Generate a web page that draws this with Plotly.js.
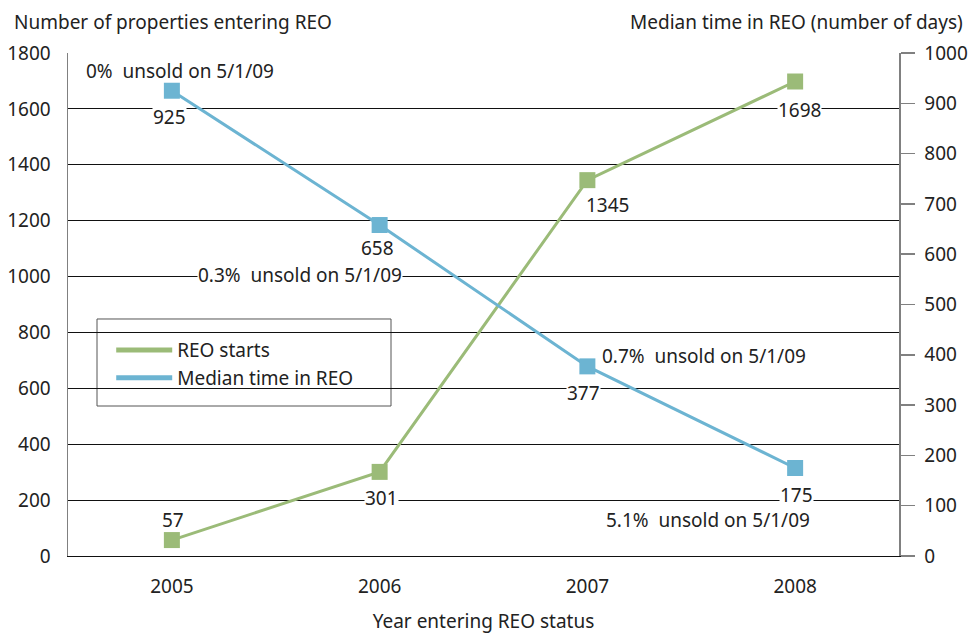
<!DOCTYPE html>
<html>
<head>
<meta charset="utf-8">
<script src="https://cdn.plot.ly/plotly-3.0.1.min.js"></script>
<style>html,body{margin:0;padding:0;background:#fff;}#chart{width:970px;height:634px;}</style>
</head>
<body>
<div id="chart"></div>
<script>
// ---- data ----
const years = ['2005', '2006', '2007', '2008'];
const reoStarts = [57, 301, 1345, 1698];
const medianDays = [925, 658, 377, 175];
const unsoldPct = ['0%', '0.3%', '0.7%', '5.1%'];
const seriesNames = ['REO starts', 'Median time in REO'];
const leftTitle = 'Number of properties entering REO';
const rightTitle = 'Median time in REO (number of days)';
const xTitle = 'Year entering REO status';

// ---- styles ----
const GREEN = '#9bbb78';
const BLUE = '#6cb4d2';
const TXT = '#222222';
const FONT = 'Noto Sans, Open Sans, sans-serif';
const FS = 19;

// [xshift, yshift, whiteBackground]
const greenLabelShift = [[1, 20, false], [2, -26, true], [20, -25, false], [4, -28, true]];
const blueLabelShift = [[-2, -26, true], [-2, -23, false], [-4, -27, true], [1, -27, true]];
// [xshift, yshift, xanchor, whiteBackground]
const unsoldShift = [[-87, 20, 'left', false], [-80, -50, 'center', true], [14, 10, 'left', false], [-87, -52, 'center', false]];

const traces = [
  {x: years, y: reoStarts, type: 'scatter', mode: 'lines+markers', name: seriesNames[0],
   line: {color: GREEN, width: 3}, marker: {symbol: 'square', size: 16, color: GREEN},
   yaxis: 'y', showlegend: false, hoverinfo: 'x+y'},
  {x: years, y: medianDays, type: 'scatter', mode: 'lines+markers', name: seriesNames[1],
   line: {color: BLUE, width: 3}, marker: {symbol: 'square', size: 16, color: BLUE},
   yaxis: 'y2', showlegend: false, hoverinfo: 'x+y'},
  // legend entries (line only)
  {x: [null], y: [null], type: 'scatter', mode: 'lines', name: seriesNames[0],
   line: {color: GREEN, width: 5}, yaxis: 'y', hoverinfo: 'skip'},
  {x: [null], y: [null], type: 'scatter', mode: 'lines', name: seriesNames[1],
   line: {color: BLUE, width: 5}, yaxis: 'y', hoverinfo: 'skip'}
];

const annotations = [];
years.forEach((yr, i) => {
  const g = greenLabelShift[i];
  annotations.push({x: i, y: reoStarts[i], xref: 'x', yref: 'y', text: String(reoStarts[i]),
    showarrow: false, xshift: g[0], yshift: g[1], bgcolor: g[2] ? '#ffffff' : 'rgba(0,0,0,0)',
    borderpad: 0, font: {size: FS, color: TXT}});
  const b = blueLabelShift[i];
  annotations.push({x: i, y: medianDays[i], xref: 'x', yref: 'y2', text: String(medianDays[i]),
    showarrow: false, xshift: b[0], yshift: b[1], bgcolor: b[2] ? '#ffffff' : 'rgba(0,0,0,0)',
    borderpad: 0, font: {size: FS, color: TXT}});
  const u = unsoldShift[i];
  annotations.push({x: i, y: medianDays[i], xref: 'x', yref: 'y2',
    text: unsoldPct[i] + '\u00a0 unsold on 5/1/09',
    showarrow: false, xshift: u[0], yshift: u[1], xanchor: u[2],
    bgcolor: u[3] ? '#ffffff' : 'rgba(0,0,0,0)', borderpad: 0,
    font: {size: FS, color: TXT}});
});
annotations.push({xref: 'paper', yref: 'paper', x: -0.067, y: 1.0, yshift: 31, xanchor: 'left', yanchor: 'middle',
  text: leftTitle, showarrow: false, font: {size: FS, color: TXT}});
annotations.push({xref: 'paper', yref: 'paper', x: 1.0, xshift: 66, y: 1.0, yshift: 31, xanchor: 'right', yanchor: 'middle',
  text: rightTitle, showarrow: false, font: {size: FS, color: TXT}});

const layout = {
  width: 970, height: 634,
  margin: {l: 68, r: 71, t: 53, b: 78},
  paper_bgcolor: '#ffffff', plot_bgcolor: '#ffffff',
  font: {family: FONT, size: FS, color: TXT},
  xaxis: {type: 'category', range: [-0.5, 3.5], showgrid: false, zeroline: false,
    showline: true, linecolor: '#111111', linewidth: 1, ticks: '', ticklabelstandoff: 13,
    tickfont: {size: FS, color: TXT},
    title: {text: xTitle, standoff: 23, font: {size: FS, color: TXT}}},
  yaxis: {range: [0, 1800], tick0: 0, dtick: 200, showgrid: true, gridcolor: '#111111', gridwidth: 1,
    zeroline: false, showline: true, linecolor: '#808080', linewidth: 1.5, ticks: '',
    ticklabelstandoff: 12, tickfont: {size: FS, color: TXT}},
  yaxis2: {range: [0, 1000], tick0: 0, dtick: 100, overlaying: 'y', side: 'right', showgrid: false,
    zeroline: false, showline: true, linecolor: '#808080', linewidth: 1.5, ticks: 'outside',
    ticklen: 14, tickwidth: 1.5, tickcolor: '#808080', ticklabelstandoff: 6,
    tickfont: {size: FS, color: TXT}},
  legend: {x: 0.052, y: 0.447, xanchor: 'left', yanchor: 'top', bgcolor: 'rgba(0,0,0,0)',
    borderwidth: 0, font: {size: FS, color: TXT}, itemwidth: 56, tracegroupgap: 0},
  shapes: [{type: 'rect', xref: 'paper', yref: 'paper', x0: 0.0349, x1: 0.3887, y0: 0.2982, y1: 0.4712,
    line: {color: '#555555', width: 1}, fillcolor: '#ffffff', layer: 'below'}],
  annotations: annotations,
  showlegend: true
};

Plotly.newPlot('chart', traces, layout, {displayModeBar: false, staticPlot: true});
</script>
</body>
</html>
